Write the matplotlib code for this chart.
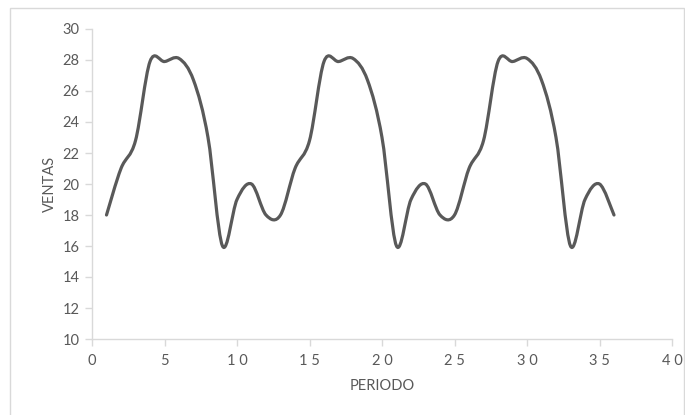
import matplotlib
matplotlib.use("Agg")
import matplotlib.pyplot as plt
from matplotlib.path import Path
from matplotlib.patches import PathPatch, Rectangle
import numpy as np

periodo = list(range(1, 37))
ventas = [18, 21, 22.8, 27.9, 27.9, 28.1, 26.7, 23, 16, 19, 20, 18,
          18, 21, 22.8, 27.9, 27.9, 28.1, 26.7, 23, 16, 19, 20, 18,
          18, 21, 22.8, 27.9, 27.9, 28.1, 26.7, 23, 16, 19, 20, 18]
x_ticks = [0, 5, 10, 15, 20, 25, 30, 35, 40]
y_ticks = [10, 12, 14, 16, 18, 20, 22, 24, 26, 28, 30]

plt.rcParams['font.family'] = ['Lato', 'DejaVu Sans']

fig = plt.figure(figsize=(6.85, 4.15), dpi=100)
ax = fig.add_axes([92/685, 1-339/415, (672-92)/685, (339-29)/415])

# Smoothed line (Bezier segments, Excel-style)
pts = np.column_stack([periodo, ventas]).astype(float)
n = len(pts)
verts = [tuple(pts[0])]
codes = [Path.MOVETO]
for i in range(n - 1):
    p0 = pts[i - 1] if i > 0 else pts[i]
    p1 = pts[i]
    p2 = pts[i + 1]
    p3 = pts[i + 2] if i + 2 < n else pts[i + 1]
    c1 = p1 + (p2 - p0) / 6.0
    c2 = p2 - (p3 - p1) / 6.0
    verts += [tuple(c1), tuple(c2), tuple(p2)]
    codes += [Path.CURVE4] * 3
patch = PathPatch(Path(verts, codes), facecolor='none', edgecolor='#595959',
                  lw=2.3, capstyle='round', joinstyle='round')
ax.add_patch(patch)

ax.set_xlim(0, 40)
ax.set_ylim(10, 30)
ax.set_xticks(x_ticks)
ax.set_yticks(y_ticks)
ax.set_xticklabels([" ".join(str(t)) for t in x_ticks])
for s in ['top', 'right']:
    ax.spines[s].set_visible(False)
for s in ['left', 'bottom']:
    ax.spines[s].set_color('#d9d9d9')
    ax.spines[s].set_linewidth(1.0)
ax.tick_params(axis='both', colors='#d9d9d9', labelcolor='#595959',
               labelsize=10.5, length=5, width=1.0, direction='out')
ax.tick_params(axis='x', pad=6)
ax.tick_params(axis='y', pad=4)
ax.set_xlabel('PERIODO', color='#595959', fontsize=10.5, labelpad=8)
ax.set_ylabel('VENTAS', color='#595959', fontsize=10.5, labelpad=4)

fig.patches.append(Rectangle((10/685, -0.01), (684-10)/685, 1-8/415+0.01,
                             transform=fig.transFigure, fill=False,
                             edgecolor='#d9d9d9', lw=1.0))

fig.savefig('out.png', dpi=100)
